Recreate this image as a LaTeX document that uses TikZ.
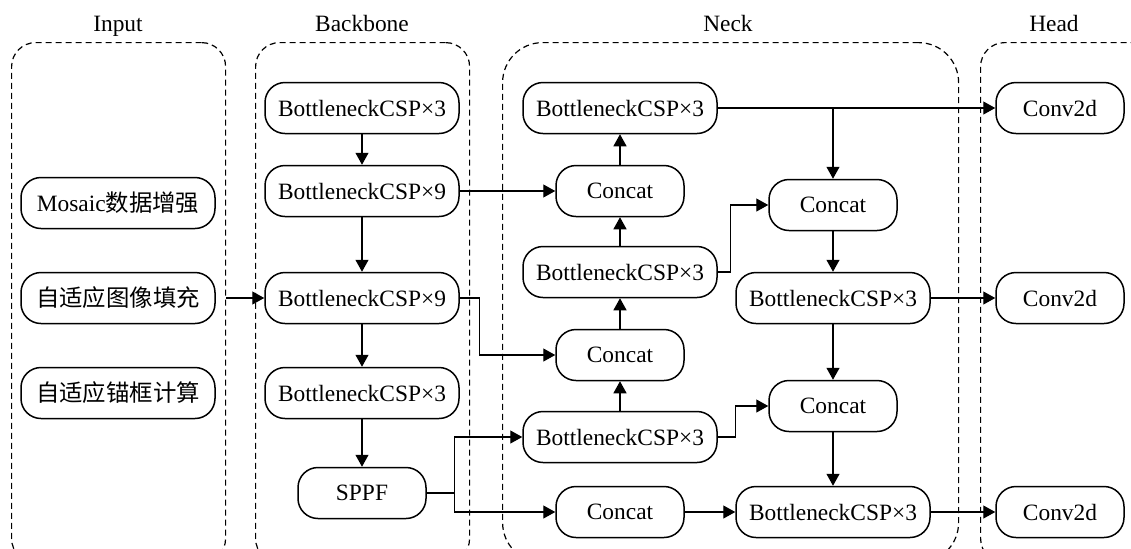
\documentclass[tikz,border=0pt]{standalone}
\usepackage{fontspec}
\setmainfont{Liberation Serif}
\newfontfamily\cjk{Noto Sans CJK SC}
\usetikzlibrary{arrows.meta,positioning}

\begin{document}
\begin{tikzpicture}[
    x=0.5pt, y=-0.5pt,
    font=\fontsize{11.7}{14}\selectfont,
    blk/.style={rectangle, draw, line width=0.75pt, rounded corners=10pt, align=center, minimum height=25.5pt, minimum width=97pt, inner sep=2pt},
    cat/.style={blk, minimum width=64pt},
    grp/.style={rectangle, draw, dashed, dash pattern=on 3pt off 2pt, line width=0.6pt, rounded corners=12pt, anchor=north west, inner sep=0pt},
    ttl/.style={anchor=base, inner sep=0pt},
    arr/.style={-{Triangle[length=6pt,width=6.5pt]}, line width=0.6pt}
]
    \useasboundingbox (0,0) rectangle (1131,548);
    \clip (0,0) rectangle (1131,548);

    % groups
    \node [grp, minimum width=107pt, minimum height=260pt] (gin) at (11,42) {};
    \node [grp, minimum width=107pt, minimum height=260pt] (gbb) at (255,42) {};
    \node [grp, minimum width=228pt, minimum height=260pt, rounded corners=20pt] (gnk) at (502,42) {};
    \node [grp, minimum width=90pt, minimum height=260pt] (ghd) at (980,42) {};

    \node [ttl] (tin) at (118,31) {Input};
    \node [ttl] (tbb) at (362,31) {Backbone};
    \node [ttl] (tnk) at (728,31) {Neck};
    \node [ttl] (thd) at (1054,31) {Head};

    % input
    \node [blk] (in1) at (118,203) {Mosaic{\cjk 数据增强}};
    \node [blk] (in2) at (118,298) {\cjk 自适应图像填充};
    \node [blk] (in3) at (118,393) {\cjk 自适应锚框计算};

    % backbone
    \node [blk] (b1) at (362,108) {BottleneckCSP×3};
    \node [blk] (b2) at (362,191) {BottleneckCSP×9};
    \node [blk] (b3) at (362,298) {BottleneckCSP×9};
    \node [blk] (b4) at (362,393) {BottleneckCSP×3};
    \node [cat] (sppf) at (362,493) {SPPF};

    % neck
    \node [blk] (n1) at (620,108) {BottleneckCSP×3};
    \node [cat] (c1) at (620,191) {Concat};
    \node [blk] (n2) at (620,272) {BottleneckCSP×3};
    \node [cat] (c2) at (620,355) {Concat};
    \node [blk] (n3) at (620,437) {BottleneckCSP×3};
    \node [cat] (c3) at (620,512) {Concat};
    \node [cat] (c4) at (833,205) {Concat};
    \node [blk] (n4) at (833,298) {BottleneckCSP×3};
    \node [cat] (c5) at (833,406) {Concat};
    \node [blk] (n5) at (833,512) {BottleneckCSP×3};

    % head
    \node [cat] (h1) at (1060,108) {Conv2d};
    \node [cat] (h2) at (1060,298) {Conv2d};
    \node [cat] (h3) at (1060,512) {Conv2d};

    \draw [arr] (gin.east |- in2) -- (b3);
    \draw [arr] (b1) -- (b2);
    \draw [arr] (b2) -- (b3);
    \draw [arr] (b3) -- (b4);
    \draw [arr] (b4) -- (sppf);

    \draw [arr] (b2) -- (c1);
    \draw [arr] (b3.east) -- ++(20,0) |- (c2);
    \draw [arr] (sppf.east) -- ++(28,0) coordinate (sp) |- (n3);
    \draw [arr] (sp) |- (c3);

    \draw [arr] (c1) -- (n1);
    \draw [arr] (n2) -- (c1);
    \draw [arr] (c2) -- (n2);
    \draw [arr] (n3) -- (c2);

    \draw [arr] (n1) -- (h1);
    \draw [arr] (n1 -| c4) -- (c4);
    \draw [arr] (n2.east) -- ++(13,0) |- (c4);
    \draw [arr] (c4) -- (n4);
    \draw [arr] (n4) -- (h2);
    \draw [arr] (n4) -- (c5);
    \draw [arr] (n3.east) -- ++(18,0) |- (c5);
    \draw [arr] (c5) -- (n5);
    \draw [arr] (c3) -- (n5);
    \draw [arr] (n5) -- (h3);
\end{tikzpicture}
\end{document}
